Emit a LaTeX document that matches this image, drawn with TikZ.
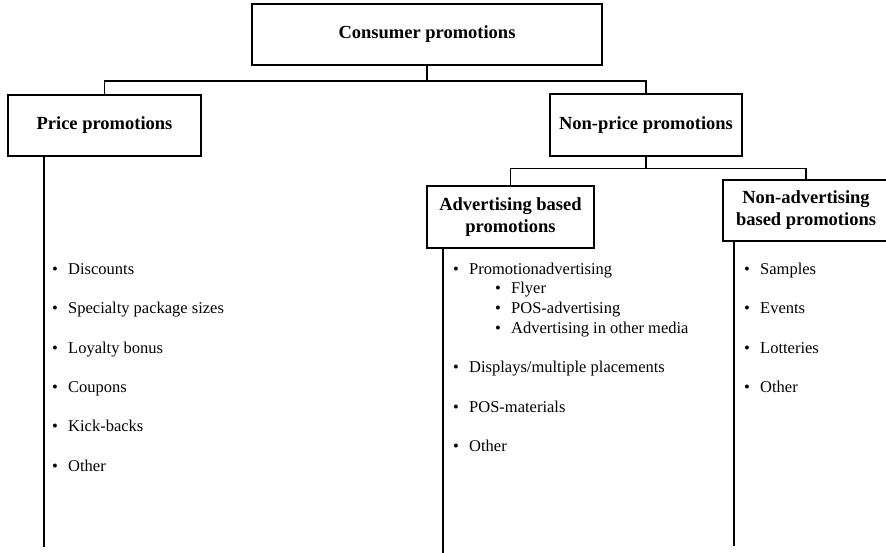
\documentclass[tikz,border=0pt]{standalone}
\usepackage{fontspec}
\setmainfont{Liberation Serif}
\newcommand\headfont{\fontsize{18.5}{22}\selectfont\bfseries}
\newcommand\listfont{\fontsize{16.5}{20}\selectfont}
\newcommand\bul{\makebox[16pt][l]{•}}
\tikzset{
  box/.style={draw, line width=1.6pt, font=\headfont, align=center, inner sep=0pt},
  wire/.style={line width=1.6pt},
  entry/.style={anchor=base west, inner sep=0pt, font=\listfont},
}
\begin{document}
\begin{tikzpicture}[x=1pt, y=-1pt]
\useasboundingbox (0,0) rectangle (886,552);
\clip (0,0) rectangle (886,552);

% category boxes
\node[box, minimum width=350pt, minimum height=61pt] (cons) at (427,34.5) {Consumer promotions};
\node[box, minimum width=193pt, minimum height=61pt] (price) at (104.5,125.5) {Price promotions};
\node[box, minimum width=192pt, minimum height=62pt] (nonprice) at (646,125) {Non-price promotions};
\node[box, minimum width=167pt, minimum height=62pt] (adv) at (510.5,217) {Advertising based\\promotions};
\node[box, minimum width=166pt, minimum height=61pt] (nonadv) at (806,210.5) {Non-advertising\\based promotions};

% tree connectors
\draw[wire] (cons.south) -- ++(0,15) -| (price.north);
\draw[wire] (cons.south) -- ++(0,15) -| (nonprice.north);
\draw[wire] (nonprice.south) -- ++(0,11.5) -| (adv.north);
\draw[wire] (nonprice.south) -- ++(0,11.5) -| (nonadv.north);

% list stems
\coordinate (pend) at (44,547);
\coordinate (aend) at (443,553);
\coordinate (nend) at (734,546);
\draw[wire] (price.south -| pend) -- (pend);
\draw[wire] (adv.south -| aend) -- (aend);
\draw[wire] (nonadv.south -| nend) -- (nend);

% price promotion items
\node[entry] (p1) at (52,274) {\bul Discounts};
\node[entry] (p2) at (52,313) {\bul Specialty package sizes};
\node[entry] (p3) at (52,353) {\bul Loyalty bonus};
\node[entry] (p4) at (52,392) {\bul Coupons};
\node[entry] (p5) at (52,431) {\bul Kick-backs};
\node[entry] (p6) at (52,471) {\bul Other};

% advertising based items
\node[entry] (a1) at (453,274) {\bul Promotionadvertising};
\node[entry] (a2) at (495,293) {\bul Flyer};
\node[entry] (a3) at (495,313) {\bul POS-advertising};
\node[entry] (a4) at (495,333) {\bul Advertising in other media};
\node[entry] (a5) at (453,372) {\bul Displays/multiple placements};
\node[entry] (a6) at (453,412) {\bul POS-materials};
\node[entry] (a7) at (453,451) {\bul Other};

% non-advertising based items
\node[entry] (n1) at (744,274) {\bul Samples};
\node[entry] (n2) at (744,313) {\bul Events};
\node[entry] (n3) at (744,353) {\bul Lotteries};
\node[entry] (n4) at (744,392) {\bul Other};
\end{tikzpicture}
\end{document}
